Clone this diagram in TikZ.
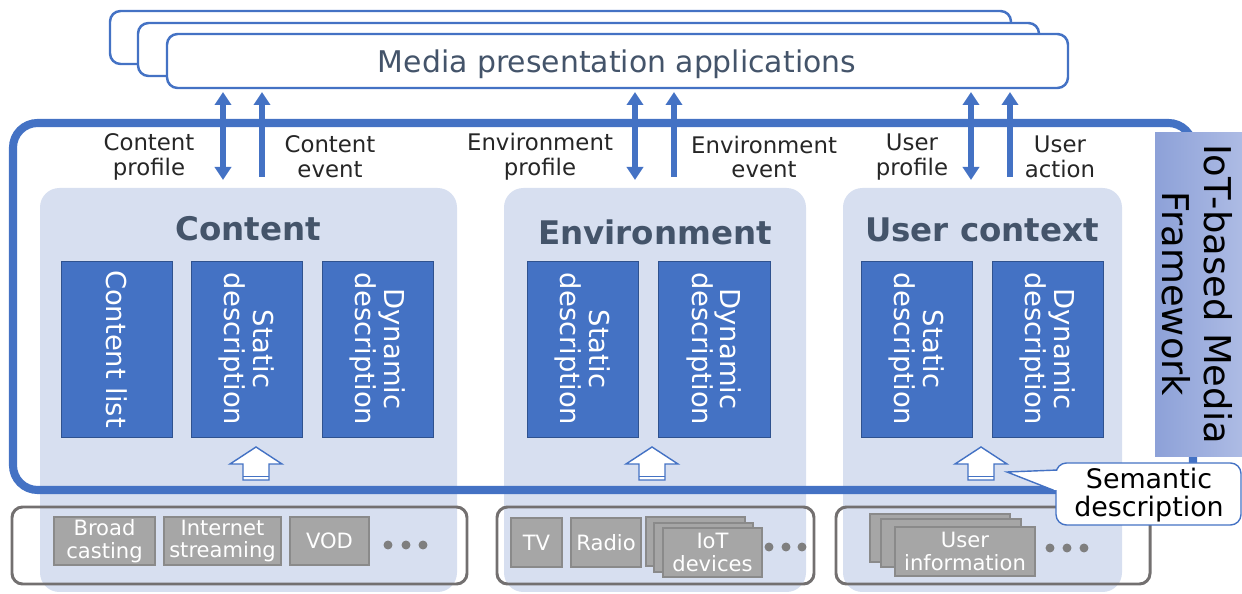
\documentclass[tikz,border=0pt]{standalone}
\usepackage{fontspec}
\setmainfont{DejaVu Sans}
\usetikzlibrary{arrows.meta,fit}
\definecolor{accent}{HTML}{4472C4}
\definecolor{accentdk}{HTML}{2F528F}
\definecolor{panelbg}{HTML}{D7DFF0}
\definecolor{slate}{HTML}{44546A}
\definecolor{srcgray}{HTML}{A6A6A6}
\definecolor{srcedge}{HTML}{8A8A8A}
\definecolor{srcframe}{HTML}{737070}
\definecolor{dotgray}{HTML}{7F7F7F}
\definecolor{fwleft}{HTML}{8DA1D8}
\definecolor{fwright}{HTML}{ADBBE4}
\begin{document}
\begin{tikzpicture}[x=0.02cm,y=-0.02cm,
  appbox/.style={draw=accent, line width=1.4pt, fill=white, rounded corners=6pt, inner sep=0pt},
  panel/.style={fill=panelbg, rounded corners=11pt, inner sep=0pt},
  frame/.style={draw=accent, line width=4.6pt, rounded corners=14pt, inner sep=0pt},
  descbox/.style={fill=accent, draw=accentdk, line width=0.5pt, inner sep=0pt},
  vtext/.style={rotate=-90, text=white, align=center, font=\fontsize{15.6}{16.2}\selectfont},
  title/.style={text=slate, font=\bfseries\fontsize{18.5}{22}\selectfont},
  flowlabel/.style={text=black!85, align=center, font=\fontsize{13}{14.2}\selectfont},
  biarrow/.style={draw=accent, line width=3.1pt, {Triangle[width=9.2pt,length=7.4pt]}-{Triangle[width=9.2pt,length=7.4pt]}},
  uparrow/.style={draw=accent, line width=3.1pt, -{Triangle[width=9.2pt,length=7.4pt]}},
  hollow/.style={draw=accent, line width=0.8pt, fill=white},
  srcframe/.style={draw=srcframe, line width=1.7pt, rounded corners=6pt, inner sep=0pt},
  srcbox/.style={fill=srcgray, draw=srcedge, line width=0.6pt, inner sep=0pt},
  srctext/.style={text=white, align=center, font=\fontsize{12}{13}\selectfont},
  dot/.style={circle, fill=dotgray, inner sep=0pt, minimum size=5.1pt},
  callout/.style={draw=accent, line width=0.8pt, fill=white, rounded corners=6pt, inner sep=0pt}
]
\useasboundingbox (0,0) rectangle (1242,594);

% group panels
\node[panel, fit={(40,188) (457,592)}] (pcont) {};
\node[panel, fit={(504,188) (806,592)}] (penv) {};
\node[panel, fit={(843,188) (1122,592)}] (puser) {};

% framework outline and its label
\node[frame, fit={(13,123) (1193,490)}] (fw) {};
\node[inner sep=0pt, left color=fwleft, right color=fwright, fit={(1155,133) (1242,457)}] (fwlab) {};
\node[rotate=-90, align=center, font=\fontsize{21}{24}\selectfont] (fwtxt) at (1197,294) {IoT-based Media\\Framework};

% group titles
\node[title] (tcont) at (248,229) {Content};
\node[title] (tenv) at (655,232) {Environment};
\node[title] (tuser) at (982,230) {User context};

% description blocks
\node[descbox, fit={(61,261) (172,437)}] (clist) {};
\node[descbox, fit={(191,261) (302,437)}] (cstat) {};
\node[descbox, fit={(322,261) (433,437)}] (cdyn) {};
\node[descbox, fit={(527,261) (638,437)}] (estat) {};
\node[descbox, fit={(658,261) (770,437)}] (edyn) {};
\node[descbox, fit={(861,261) (972,437)}] (ustat) {};
\node[descbox, fit={(992,261) (1103,437)}] (udyn) {};
\node[vtext] at (clist.center) {Content list};
\node[vtext] at (cstat.center) {Static\\description};
\node[vtext] at (cdyn.center) {Dynamic\\description};
\node[vtext] at (estat.center) {Static\\description};
\node[vtext] at (edyn.center) {Dynamic\\description};
\node[vtext] at (ustat.center) {Static\\description};
\node[vtext] at (udyn.center) {Dynamic\\description};

% hollow block arrows feeding the descriptions
\foreach \cx in {256,652,981} {
  \filldraw[hollow] (\cx,447) -- (\cx+26,464) -- (\cx+13,464) -- (\cx+13,480)
    -- (\cx-13,480) -- (\cx-13,464) -- (\cx-26,464) -- cycle;
  \draw[accent, line width=0.8pt] (\cx-13,476.5) -- (\cx+13,476.5);
}

% stacked application boxes
\node[appbox, fit={(110,11) (1011,64)}] (app3) {};
\node[appbox, fit={(138,23) (1039,76)}] (app2) {};
\node[appbox, fit={(167,34) (1068,88)}] (apps) {};
\node[text=slate, font=\fontsize{17}{20}\selectfont] (appstxt) at (617,64) {Media presentation applications};

% exchange arrows between framework and applications
\coordinate (cpb) at (223,180); \coordinate (cpt) at (223,92);
\coordinate (ceb) at (262,177); \coordinate (cet) at (262,92);
\coordinate (epb) at (635,180); \coordinate (ept) at (635,92);
\coordinate (eeb) at (674,177); \coordinate (eet) at (674,92);
\coordinate (upb) at (971,180); \coordinate (upt) at (971,92);
\coordinate (uab) at (1010,177); \coordinate (uat) at (1010,92);
\draw[biarrow] (cpb) -- (cpt);
\draw[uparrow] (ceb) -- (cet);
\draw[biarrow] (epb) -- (ept);
\draw[uparrow] (eeb) -- (eet);
\draw[biarrow] (upb) -- (upt);
\draw[uparrow] (uab) -- (uat);

\node[flowlabel] (lcp) at (149,157) {Content\\profile};
\node[flowlabel] (lce) at (330,157) {Content\\event};
\node[flowlabel] (lep) at (540,157) {Environment\\profile};
\node[flowlabel] (lee) at (764,157) {Environment\\event};
\node[flowlabel] (lup) at (912,157) {User\\profile};
\node[flowlabel] (lua) at (1060,157) {User\\action};

% sources
\node[srcframe, fit={(12,507) (467,584)}] (scont) {};
\node[srcframe, fit={(497,507) (814,584)}] (senv) {};
\node[srcframe, fit={(836,507) (1150,584)}] (suser) {};

\node[srcbox, fit={(54,517) (155,565)}] (sbc) {};
\node[srctext] at (sbc.center) {Broad\\casting};
\node[srcbox, fit={(164,517) (281,565)}] (sis) {};
\node[srctext] at (sis.center) {Internet\\streaming};
\node[srcbox, fit={(290,517) (369,565)}] (svod) {};
\node[srctext] at (svod.center) {VOD};
\node[dot] at (388,545) {};
\node[dot] at (406,545) {};
\node[dot] at (423,545) {};

\node[srcbox, fit={(511,518) (562,567)}] (stv) {};
\node[srctext] at (stv.center) {TV};
\node[srcbox, fit={(571,518) (641,567)}] (srad) {};
\node[srctext] at (srad.center) {Radio};
\node[srcbox, fit={(646,517) (745,566)}] (siot3) {};
\node[srcbox, fit={(654,523) (753,572)}] (siot2) {};
\node[srcbox, fit={(663,528) (762,577)}] (siot) {};
\node[srctext] at (siot.center) {IoT\\devices};
\node[dot] at (769,547) {};
\node[dot] at (786,547) {};
\node[dot] at (802,547) {};

\node[srcbox, fit={(870,514) (1010,562)}] (sui3) {};
\node[srcbox, fit={(881,519) (1021,567)}] (sui2) {};
\node[srcbox, fit={(895,527) (1035,576)}] (sui) {};
\node[srctext] at (sui.center) {User\\information};
\node[dot] at (1050,548) {};
\node[dot] at (1067,548) {};
\node[dot] at (1084,548) {};

% semantic description callout
\filldraw[callout, rounded corners=0pt] (1058,470) -- (1007,472) -- (1058,492) -- cycle;
\node[callout, fit={(1056,463) (1241,525)}] (sem) {};
\fill[white] (1054,471.5) rectangle (1060,490.5);
\node[text=black, align=center, font=\fontsize{15.3}{16}\selectfont] (semtxt) at (1149,495) {Semantic\\description};
\end{tikzpicture}
\end{document}
